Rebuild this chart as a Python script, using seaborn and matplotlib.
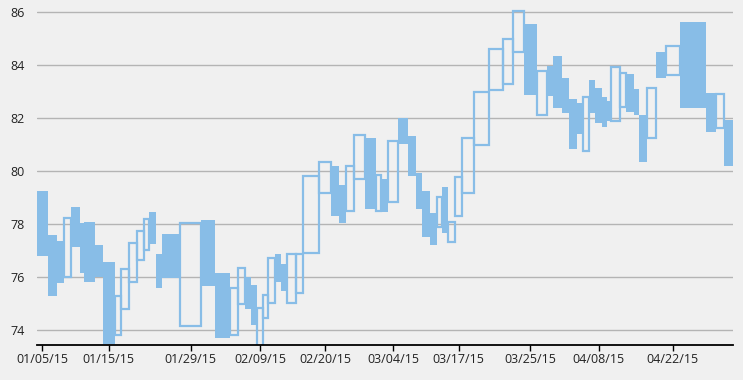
import matplotlib
matplotlib.use("Agg")
import matplotlib.pyplot as plt
import seaborn as sns
import numpy as np
import pandas as pd

dates = [
    "01/05/15", "01/06/15", "01/07/15", "01/08/15", "01/09/15", "01/12/15", "01/13/15", "01/14/15", "01/15/15", "01/16/15",
    "01/20/15", "01/21/15", "01/22/15", "01/23/15", "01/26/15", "01/27/15", "01/28/15", "01/29/15", "01/30/15",
    "02/02/15", "02/03/15", "02/04/15", "02/05/15", "02/06/15", "02/09/15", "02/10/15", "02/11/15", "02/12/15", "02/13/15",
    "02/17/15", "02/18/15", "02/19/15", "02/20/15", "02/23/15", "02/24/15", "02/25/15", "02/26/15", "02/27/15",
    "03/02/15", "03/03/15", "03/04/15", "03/05/15", "03/06/15", "03/09/15", "03/10/15", "03/11/15", "03/12/15", "03/13/15",
    "03/16/15", "03/17/15", "03/18/15", "03/19/15", "03/20/15", "03/23/15", "03/24/15", "03/25/15", "03/26/15", "03/27/15",
    "03/30/15", "03/31/15", "04/01/15", "04/02/15", "04/06/15", "04/07/15", "04/08/15", "04/09/15", "04/10/15",
    "04/13/15", "04/14/15", "04/15/15", "04/16/15", "04/17/15", "04/20/15", "04/21/15", "04/22/15", "04/23/15", "04/24/15",
    "04/27/15", "04/28/15",
]

open_ = [
    79.26, 77.58, 77.36, 76.01, 78.62, 78.03, 78.08, 77.20, 76.58, 73.81,
    74.79, 75.82, 76.64, 77.00, 78.46, 76.87, 77.63, 74.16, 78.15, 76.14,
    73.81, 74.97, 75.99, 75.70, 73.40, 74.44, 75.00, 76.86, 76.48, 75.03,
    75.41, 76.92, 79.16, 80.19, 79.47, 78.49, 79.70, 81.23, 78.49, 79.70,
    78.82, 81.99, 81.33, 79.91, 79.26, 78.43, 77.90, 79.38, 77.31, 78.31,
    79.16, 80.98, 83.06, 83.28, 84.50, 85.55, 82.11, 83.96, 84.35, 83.52,
    82.72, 82.55, 80.77, 83.43, 83.12, 82.80, 82.62, 81.90, 82.43, 83.66,
    83.08, 82.11, 81.23, 84.50, 83.62, 85.61, 82.95, 81.61, 81.92,
]

close = [
    76.79, 75.29, 75.76, 78.22, 77.14, 76.14, 75.79, 75.99, 73.47, 75.29,
    76.29, 77.29, 77.74, 78.19, 77.25, 75.57, 75.95, 78.03, 75.67, 73.69,
    75.57, 76.32, 74.79, 74.19, 74.82, 75.32, 76.73, 75.82, 75.45, 76.87,
    76.87, 79.81, 80.33, 78.31, 78.05, 80.19, 81.36, 78.57, 79.85, 78.46,
    81.14, 81.01, 79.79, 78.57, 77.50, 77.21, 79.03, 77.65, 78.09, 79.76,
    81.23, 82.99, 84.59, 84.97, 86.05, 82.87, 83.77, 82.83, 82.37, 82.18,
    80.82, 81.40, 82.80, 82.18, 81.80, 81.67, 81.90, 83.94, 83.69, 82.24,
    82.11, 80.33, 83.14, 83.50, 84.73, 82.37, 81.45, 82.91, 80.19,
]

volume_m = [
    10.7, 9.3, 6.7, 7.5, 8.5, 4.7, 10.3, 8.0, 12.0, 6.7,
    7.3, 8.7, 7.0, 4.6, 6.7, 6.7, 18.3, 20.3, 14.7, 15.0,
    8.0, 7.0, 5.7, 6.3, 5.7, 5.3, 7.0, 6.0, 5.7, 9.0,
    7.0, 16.3, 12.0, 8.0, 7.0, 8.0, 11.0, 10.5, 5.5, 7.3,
    9.4, 10.0, 8.0, 6.6, 7.2, 7.2, 5.0, 6.6, 6.7, 7.3,
    12.0, 14.7, 14.3, 9.4, 11.0, 13.6, 10.0, 5.7, 8.7, 7.0,
    8.0, 6.0, 6.0, 6.6, 6.7, 5.0, 4.3, 8.7, 6.0, 7.7,
    5.0, 8.6, 9.0, 9.7, 14.0, 26.3, 10.4, 7.6, 9.0,
]

label_dates = ["01/05/15", "01/15/15", "01/29/15", "02/09/15", "02/20/15",
               "03/04/15", "03/17/15", "03/25/15", "04/08/15", "04/22/15"]
y_ticks = [74, 76, 78, 80, 82, 84, 86]

df = pd.DataFrame({"date": dates, "open": open_, "close": close, "volume": volume_m})
df["left"] = df["volume"].cumsum() - df["volume"]
df["center"] = df["left"] + df["volume"] / 2
df["bottom"] = df[["open", "close"]].min(axis=1)
df["height"] = (df["close"] - df["open"]).abs()
df["up"] = df["close"] > df["open"]

sns.set_theme(style="white")
plt.rcParams["font.family"] = ["Open Sans", "DejaVu Sans"]

BG = "#F0F0F0"
BLUE = "#88BDE7"

fig = plt.figure(figsize=(7.43, 3.80), dpi=100, facecolor=BG)
ax = fig.add_axes([37 / 743, 35 / 380, 696 / 743, 345 / 380])
ax.set_facecolor(BG)

down = df[~df["up"]]
up = df[df["up"]]
ax.bar(down["left"], down["height"], width=down["volume"], bottom=down["bottom"],
       align="edge", color=BLUE, edgecolor="none", linewidth=0, zorder=3)
ax.bar(up["left"], up["height"], width=up["volume"], bottom=up["bottom"],
       align="edge", facecolor="none", edgecolor=BLUE, linewidth=1.6, zorder=3)

ax.set_xlim(0, df["volume"].sum())
ax.set_ylim(73.43, 86.45)
ax.set_yticks(y_ticks)
ax.set_yticklabels([str(v) for v in y_ticks])
ticks_df = df.set_index("date").loc[label_dates]
ax.set_xticks(ticks_df["center"].values)
ax.set_xticklabels(label_dates)

ax.grid(axis="y", color="#B4B4B4", linewidth=1.0, zorder=0)
ax.grid(axis="x", visible=False)
for s in ["top", "right", "left"]:
    ax.spines[s].set_visible(False)
ax.spines["bottom"].set_color("black")
ax.spines["bottom"].set_linewidth(1.3)
ax.spines["bottom"].set_zorder(5)

ax.tick_params(axis="y", length=0, pad=9, labelsize=9, labelcolor="#222222")
ax.tick_params(axis="x", length=4, width=1, color="black", direction="out", pad=2,
               labelsize=9, labelcolor="#222222", bottom=True)

fig.savefig("out.png", dpi=100, facecolor=BG)
